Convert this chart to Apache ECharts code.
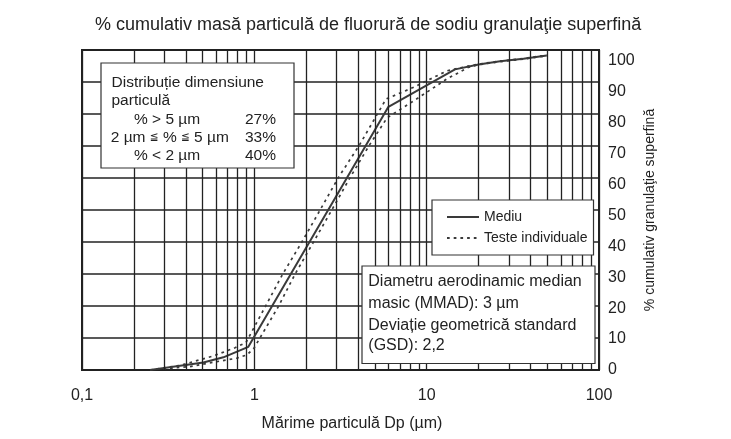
<!DOCTYPE html>
<html>
<head>
<meta charset="utf-8">
<script src="https://cdn.jsdelivr.net/npm/echarts@6/dist/echarts.min.js"></script>
<style>html,body{margin:0;padding:0;background:#fff}#c{width:731px;height:439px}</style>
</head>
<body>
<div id="c"></div>
<script>
// ---- data ----
const xTickValues = [0.1, 1, 10, 100];
const xTickLabels = ['0,1', '1', '10', '100'];
const minorGridX = [0.2,0.3,0.4,0.5,0.6,0.7,0.8,0.9, 2,3,4,5,6,7,8,9, 20,30,40,50,60,70,80,90];
const yTickValues = [0,10,20,30,40,50,60,70,80,90,100];

const meanSize = [0.248, 0.371, 0.506, 0.661, 0.923, 6.0, 14.6, 20.0, 26.7, 36.4, 49.8];
const meanPct  = [0, 1.4, 2.4, 4.1, 7.5, 85.1, 97.2, 98.8, 99.8, 100.6, 101.7];

const testASize = [0.248, 0.371, 0.576, 0.773, 0.895, 1.461, 1.884, 2.406, 3.073, 4.069, 5.81, 8.56, 13.08, 16.9, 20.0, 26.7, 36.4, 49.8];
const testAPct  = [0, 1.5, 4.5, 7.2, 8.9, 31.0, 41.3, 51.7, 62.2, 72.7, 87.6, 91.6, 96.7, 98.1, 98.9, 99.9, 100.7, 101.8];

const testBSize = [0.248, 0.423, 0.605, 0.790, 0.907, 0.996, 1.378, 1.723, 2.200, 2.813, 3.593, 4.650, 5.89, 8.95, 13.08, 17.4, 20.0, 26.7, 36.4, 49.8];
const testBPct  = [0, 1.1, 2.7, 3.8, 4.9, 7.1, 20.5, 31.0, 41.3, 51.7, 62.2, 72.7, 81.5, 88.0, 94.1, 97.8, 98.7, 99.7, 100.5, 101.6];

const FONT = 'Liberation Sans, Arial, Helvetica, sans-serif';
const INK = '#222';
const LINE = '#3a3a3a';

const pairs = (xs, ys) => xs.map((x, i) => [x, ys[i]]);

const chart = echarts.init(document.getElementById('c'), null, {renderer: 'canvas'});

const txt = (t, x, y, size, align, rich) => ({
  type: 'text', x: x, y: y, z: 101,
  style: {text: t, fill: INK, font: size + 'px ' + FONT, textAlign: align || 'left', textVerticalAlign: 'middle', rich: rich}
});

const leRich = {s: {fontFamily: 'DejaVu Sans', fontSize: 10.5, fill: INK, fontWeight: 'normal'}};

chart.setOption({
  animation: false,
  backgroundColor: '#fff',
  title: {
    text: '% cumulativ masă particulă de fluorură de sodiu granulaţie superfină',
    left: 90, top: 11,
    textStyle: {fontFamily: FONT, fontSize: 18, fontWeight: 'normal', color: INK}
  },
  grid: {left: 82, top: 50, width: 517, height: 320, show: true, borderColor: '#222', borderWidth: 2, backgroundColor: '#fff'},
  legend: {
    data: ['Mediu', 'Teste individuale'],
    orient: 'vertical', left: 432, top: 200,
    padding: [10, 6, 10, 14],
    itemWidth: 32, itemHeight: 14, itemGap: 7,
    itemStyle: {opacity: 0},
    backgroundColor: '#fff', borderColor: '#333', borderWidth: 1.2,
    textStyle: {fontFamily: FONT, fontSize: 14, color: INK},
    z: 50
  },
  xAxis: {
    type: 'log', logBase: 10, min: 0.1, max: 100,
    axisLine: {show: false}, axisTick: {show: false},
    axisLabel: {
      margin: 18, fontFamily: FONT, fontSize: 16, color: INK,
      formatter: v => {
        const i = xTickValues.findIndex(t => Math.abs(Math.log10(t) - Math.log10(v)) < 1e-6);
        return i >= 0 ? xTickLabels[i] : '';
      }
    },
    splitLine: {show: true, lineStyle: {color: '#222', width: 1.3}}
  },
  yAxis: [
    {
      type: 'value', position: 'right', min: 0, max: 103.46, interval: 10,
      axisLine: {show: false}, axisTick: {show: false}, splitLine: {show: false},
      axisLabel: {
        margin: 9, fontFamily: FONT, fontSize: 16, color: INK,
        formatter: v => yTickValues.indexOf(Math.round(v)) >= 0 && Math.abs(v - Math.round(v)) < 1e-6 ? String(Math.round(v)) : ''
      }
    },
    {
      type: 'value', position: 'left', min: 0, max: 10, interval: 1,
      axisLine: {show: false}, axisTick: {show: false}, axisLabel: {show: false},
      splitLine: {show: true, lineStyle: {color: '#222', width: 1.5}}
    }
  ],
  series: [
    {
      name: 'minor', type: 'line', data: [], yAxisIndex: 0, silent: true,
      markLine: {
        silent: true, symbol: 'none', label: {show: false}, animation: false,
        lineStyle: {color: '#222', width: 1.3, type: 'solid'},
        data: minorGridX.map(v => ({xAxis: v}))
      }
    },
    {
      name: 'Teste individuale', type: 'line', yAxisIndex: 0, symbol: 'none', z: 3,
      lineStyle: {color: LINE, width: 1.7, type: [2.7, 4]},
      itemStyle: {color: LINE},
      data: pairs(testASize, testAPct)
    },
    {
      name: 'Teste individuale', type: 'line', yAxisIndex: 0, symbol: 'none', z: 3,
      lineStyle: {color: LINE, width: 1.7, type: [2.7, 4]},
      itemStyle: {color: LINE},
      data: pairs(testBSize, testBPct)
    },
    {
      name: 'Mediu', type: 'line', yAxisIndex: 0, symbol: 'none', z: 4,
      lineStyle: {color: LINE, width: 2, type: 'solid'},
      itemStyle: {color: LINE},
      data: pairs(meanSize, meanPct)
    }
  ],
  graphic: [
    {type: 'rect', z: 100, shape: {x: 101, y: 63, width: 193, height: 105}, style: {fill: '#fff', stroke: '#333', lineWidth: 1.2}},
    txt('Distribuție dimensiune', 111.5, 82.5, 15.5),
    txt('particulă', 111.5, 100.8, 15.5),
    txt('% > 5 µm', 134, 119.3, 15.5),
    txt('27%', 276, 119.3, 15.5, 'right'),
    txt('2 µm {s|≦} % {s|≦} 5 µm', 110.7, 137.6, 15.5, 'left', leRich),
    txt('33%', 276, 137.6, 15.5, 'right'),
    txt('% < 2 µm', 134, 156, 15.5),
    txt('40%', 276, 156, 15.5, 'right'),
    {type: 'rect', z: 100, shape: {x: 362, y: 266, width: 233, height: 97.5}, style: {fill: '#fff', stroke: '#333', lineWidth: 1.2}},
    txt('Diametru aerodinamic median', 368.3, 282, 16),
    txt('masic (MMAD): 3 µm', 368.3, 303.5, 16),
    txt('Deviație geometrică standard', 368.3, 325.5, 16),
    txt('(GSD): 2,2', 368.3, 346, 16),
    txt('Mărime particulă Dp (µm)', 352, 424, 16, 'center'),
    {type: 'text', z: 101, x: 650, y: 210, rotation: Math.PI / 2,
     style: {text: '% cumulativ granulaţie superfină', fill: INK, font: '14px ' + FONT, textAlign: 'center', textVerticalAlign: 'middle'}}
  ]
});
</script>
</body>
</html>
